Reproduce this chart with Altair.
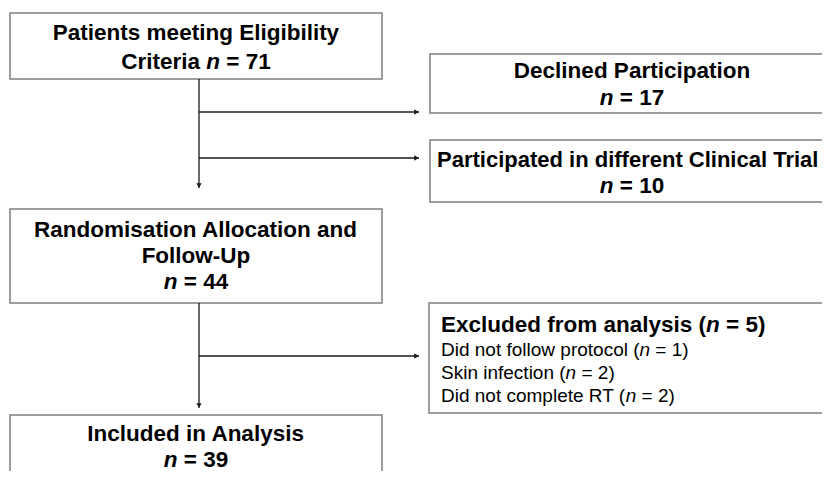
import altair as alt
import pandas as pd

# ---------------- data ----------------
stage_titles = [
    "Patients meeting Eligibility Criteria",
    "Declined Participation",
    "Participated in different Clinical Trial",
    "Randomisation Allocation and Follow-Up",
    "Excluded from analysis",
    "Included in Analysis",
]
stage_n = [71, 17, 10, 44, 5, 39]
exclusion_reasons = ["Did not follow protocol", "Skin infection", "Did not complete RT"]
exclusion_n = [1, 2, 2]

# ---------------- layout (page pixel coordinates) ----------------
box_x0 = [10, 430, 430, 10, 429, 10]
box_x1 = [382, 834, 834, 382, 834, 382]
box_y0 = [13, 54, 140, 209, 303, 415]
box_y1 = [79, 113, 202, 303, 413, 500]

FONT = "Liberation Sans, Arial, Helvetica, sans-serif"
BOLD_SIZE = 22.5
REG_SIZE = 19

# Arial / Liberation Sans advance widths (1/1000 em)
W_BOLD = {" ": 278, "(": 333, ")": 333, "=": 584, "-": 333,
          "A": 722, "C": 722, "D": 722, "E": 667, "F": 611, "I": 278, "P": 667,
          "R": 722, "T": 611, "U": 722,
          "a": 556, "b": 611, "c": 556, "d": 611, "e": 556, "f": 333, "g": 611,
          "h": 611, "i": 278, "l": 278, "m": 889, "n": 611, "o": 611, "p": 611,
          "r": 389, "s": 556, "t": 333, "u": 611, "w": 778, "x": 556, "y": 556}
W_REG = {" ": 278, "(": 333, ")": 333, "=": 584, "-": 333,
         "D": 722, "R": 722, "S": 667, "T": 611,
         "a": 556, "c": 500, "d": 556, "e": 556, "f": 278, "i": 222, "k": 500,
         "l": 222, "m": 833, "n": 556, "o": 556, "p": 556, "r": 333, "t": 278,
         "w": 722}


def text_width(s, style, size=None):
    table = W_BOLD if style.startswith("b") else W_REG
    if size is None:
        size = BOLD_SIZE if style.startswith("b") else REG_SIZE
    return sum(table.get(ch, 556) for ch in s) * size / 1000.0


segments = []


def place_line(segs, y, center=None, left=None, size=None):
    total = sum(text_width(t, st, size) for t, st in segs)
    x = left if left is not None else center - total / 2.0
    for t, st in segs:
        stripped = t.strip()
        lead = len(t) - len(t.lstrip(" "))
        if stripped:
            sz = size if size is not None else (BOLD_SIZE if st.startswith("b") else REG_SIZE)
            segments.append({"x": x + text_width(" " * lead, st, size), "y": y,
                             "text": stripped, "style": st, "size": sz})
        x += text_width(t, st, size)


def n_seg(n, style="b"):
    return [("n", style + "i"), (f" = {n}", style)]


c_left = (box_x0[0] + box_x1[0]) / 2.0
c_right = (box_x0[1] + box_x1[1]) / 2.0

# Box 1
place_line([("Patients meeting Eligibility", "b")], 40, center=c_left)
place_line([("Criteria ", "b")] + n_seg(stage_n[0]), 69, center=c_left)
# Box 2
place_line([(stage_titles[1], "b")], 78, center=c_right)
place_line(n_seg(stage_n[1]), 105, center=c_right)
# Box 3 (long line kept inside the visible page)
place_line([(stage_titles[2], "b")], 167, left=437, size=22)
place_line(n_seg(stage_n[2]), 193, center=c_right)
# Box 4
place_line([("Randomisation Allocation and", "b")], 237, center=c_left)
place_line([("Follow-Up", "b")], 263, center=c_left)
place_line(n_seg(stage_n[3]), 289, center=c_left)
# Box 5
place_line([(stage_titles[4] + " (", "b"), ("n", "bi"), (f" = {stage_n[4]})", "b")], 332, left=441)
for i, (reason, k) in enumerate(zip(exclusion_reasons, exclusion_n)):
    place_line([(reason + " (", "r"), ("n", "ri"), (f" = {k})", "r")], 356 + 23 * i, left=441)
# Box 6
place_line([(stage_titles[5], "b")], 441, center=c_left)
place_line(n_seg(stage_n[5]), 467, center=c_left)

seg_df = pd.DataFrame(segments)
box_df = pd.DataFrame({"x0": box_x0, "x1": box_x1, "y0": box_y0, "y1": box_y1})

# connectors
spine_x = 199
rule_df = pd.DataFrame({
    "x": [spine_x, spine_x, spine_x, spine_x, spine_x],
    "x2": [spine_x, 419, 419, spine_x, 419],
    "y": [79, 112, 158, 303, 356],
    "y2": [188, 112, 158, 408, 356],
})
head_right = pd.DataFrame({"x": [416.5, 416.5, 416.5], "y": [112, 158, 356]})
head_down = pd.DataFrame({"x": [spine_x, spine_x], "y": [185.5, 405.5]})

xs = alt.Scale(domain=[8, 822], nice=False, zero=False)
ys = alt.Scale(domain=[8, 471], nice=False, zero=False, reverse=True)

LINE = "#1a1a1a"

boxes = alt.Chart(box_df).mark_rect(fill="white", stroke="#7f7f7f", strokeWidth=1.5).encode(
    x=alt.X("x0:Q", scale=xs, axis=None), x2="x1:Q",
    y=alt.Y("y0:Q", scale=ys, axis=None), y2="y1:Q")

rules = alt.Chart(rule_df).mark_rule(color=LINE, strokeWidth=1.3).encode(
    x=alt.X("x:Q", scale=xs, axis=None), x2="x2:Q",
    y=alt.Y("y:Q", scale=ys, axis=None), y2="y2:Q")

heads_r = alt.Chart(head_right).mark_point(shape="triangle-right", filled=True, size=28,
                                            color=LINE, opacity=1).encode(
    x=alt.X("x:Q", scale=xs, axis=None), y=alt.Y("y:Q", scale=ys, axis=None))
heads_d = alt.Chart(head_down).mark_point(shape="triangle-down", filled=True, size=28,
                                           color=LINE, opacity=1).encode(
    x=alt.X("x:Q", scale=xs, axis=None), y=alt.Y("y:Q", scale=ys, axis=None))

styles = {
    "b": dict(fontWeight="bold", fontStyle="normal"),
    "bi": dict(fontWeight="bold", fontStyle="italic"),
    "r": dict(fontWeight="normal", fontStyle="normal"),
    "ri": dict(fontWeight="normal", fontStyle="italic"),
}
text_layers = []
for st, kw in styles.items():
    sub = seg_df[seg_df["style"] == st]
    if len(sub) == 0:
        continue
    text_layers.append(
        alt.Chart(sub).mark_text(align="left", baseline="alphabetic", font=FONT,
                                 color="black", **kw).encode(
            x=alt.X("x:Q", scale=xs, axis=None),
            y=alt.Y("y:Q", scale=ys, axis=None),
            size=alt.Size("size:Q", scale=None, legend=None),
            text="text:N"))

chart = alt.layer(boxes, rules, heads_r, heads_d, *text_layers).properties(
    width=814, height=463,
    padding=0,
    autosize=alt.AutoSizeParams(type="none"),
    background="white",
).configure_view(stroke=None)

chart.save("out.html", embed_options={"renderer": "svg", "actions": False})
